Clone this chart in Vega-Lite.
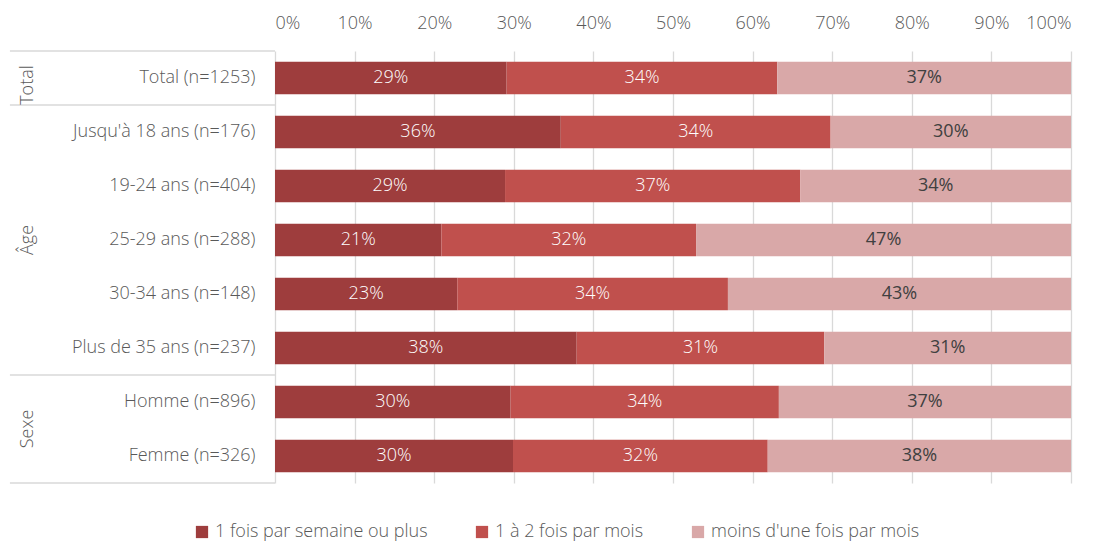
{
  "$schema": "https://vega.github.io/schema/vega-lite/v6.json",
  "width": 796,
  "height": 432,
  "autosize": {"type": "none"},
  "padding": {"left": 275, "top": 51, "right": 26, "bottom": 61},
  "background": "white",
  "config": {
    "view": {"stroke": null},
    "font": "Open Sans",
    "axis": {"labelFont": "Open Sans", "labelColor": "#595959", "labelFontSize": 18, "labelFontWeight": 300, "labelLimit": 0}
  },
  "datasets": {
    "bars": [
      {"row": "Total (n=1253)", "cat": "1 fois par semaine ou plus", "v": 0.291},
      {"row": "Total (n=1253)", "cat": "1 à 2 fois par mois", "v": 0.340},
      {"row": "Total (n=1253)", "cat": "moins d'une fois par mois", "v": 0.369},
      {"row": "Jusqu'à 18 ans (n=176)", "cat": "1 fois par semaine ou plus", "v": 0.359},
      {"row": "Jusqu'à 18 ans (n=176)", "cat": "1 à 2 fois par mois", "v": 0.339},
      {"row": "Jusqu'à 18 ans (n=176)", "cat": "moins d'une fois par mois", "v": 0.302},
      {"row": "19-24 ans (n=404)", "cat": "1 fois par semaine ou plus", "v": 0.289},
      {"row": "19-24 ans (n=404)", "cat": "1 à 2 fois par mois", "v": 0.371},
      {"row": "19-24 ans (n=404)", "cat": "moins d'une fois par mois", "v": 0.340},
      {"row": "25-29 ans (n=288)", "cat": "1 fois par semaine ou plus", "v": 0.209},
      {"row": "25-29 ans (n=288)", "cat": "1 à 2 fois par mois", "v": 0.320},
      {"row": "25-29 ans (n=288)", "cat": "moins d'une fois par mois", "v": 0.471},
      {"row": "30-34 ans (n=148)", "cat": "1 fois par semaine ou plus", "v": 0.229},
      {"row": "30-34 ans (n=148)", "cat": "1 à 2 fois par mois", "v": 0.340},
      {"row": "30-34 ans (n=148)", "cat": "moins d'une fois par mois", "v": 0.431},
      {"row": "Plus de 35 ans (n=237)", "cat": "1 fois par semaine ou plus", "v": 0.379},
      {"row": "Plus de 35 ans (n=237)", "cat": "1 à 2 fois par mois", "v": 0.311},
      {"row": "Plus de 35 ans (n=237)", "cat": "moins d'une fois par mois", "v": 0.310},
      {"row": "Homme (n=896)", "cat": "1 fois par semaine ou plus", "v": 0.296},
      {"row": "Homme (n=896)", "cat": "1 à 2 fois par mois", "v": 0.337},
      {"row": "Homme (n=896)", "cat": "moins d'une fois par mois", "v": 0.367},
      {"row": "Femme (n=326)", "cat": "1 fois par semaine ou plus", "v": 0.299},
      {"row": "Femme (n=326)", "cat": "1 à 2 fois par mois", "v": 0.320},
      {"row": "Femme (n=326)", "cat": "moins d'une fois par mois", "v": 0.381}
    ]
  },
  "layer": [
    {
      "data": {"name": "bars"},
      "transform": [
        {"stack": "v", "groupby": ["row"], "sort": [{"field": "cat", "order": "ascending"}], "as": ["x0", "x1"]}
      ],
      "mark": {"type": "bar", "height": {"band": 0.6}},
      "encoding": {
        "y": {
          "field": "row", "type": "nominal", "title": null,
          "sort": ["Total (n=1253)", "Jusqu'à 18 ans (n=176)", "19-24 ans (n=404)", "25-29 ans (n=288)", "30-34 ans (n=148)", "Plus de 35 ans (n=237)", "Homme (n=896)", "Femme (n=326)"],
          "scale": {"domain": ["Total (n=1253)", "Jusqu'à 18 ans (n=176)", "19-24 ans (n=404)", "25-29 ans (n=288)", "30-34 ans (n=148)", "Plus de 35 ans (n=237)", "Homme (n=896)", "Femme (n=326)"], "paddingInner": 0, "paddingOuter": 0},
          "axis": {"domain": false, "ticks": false, "labelPadding": 20, "grid": false}
        },
        "x": {
          "field": "x0", "type": "quantitative", "title": null,
          "scale": {"domain": [0, 1], "nice": false, "zero": false},
          "axis": {"orient": "top", "format": "%", "values": [0, 0.1, 0.2, 0.3, 0.4, 0.5, 0.6, 0.7, 0.8, 0.9, 1], "domain": false, "ticks": false, "grid": true, "gridColor": "#d9d9d9", "gridWidth": 1.3, "labelPadding": 19}
        },
        "x2": {"field": "x1"},
        "color": {
          "field": "cat", "type": "nominal",
          "sort": ["1 fois par semaine ou plus", "1 à 2 fois par mois", "moins d'une fois par mois"],
          "scale": {"domain": ["1 fois par semaine ou plus", "1 à 2 fois par mois", "moins d'une fois par mois"], "range": ["#9e3d3d", "#c0504d", "#d9a8a8"]},
          "legend": {
            "title": null, "orient": "none", "direction": "horizontal", "legendX": -82, "legendY": 472,
            "symbolType": "square", "symbolSize": 150, "symbolStrokeWidth": 0, "labelLimit": 0,
            "labelFontSize": 18, "labelFontWeight": 300, "labelColor": "#595959", "labelFont": "Open Sans", "columnPadding": 45, "labelOffset": 4
          }
        }
      }
    },
    {
      "data": {"name": "bars"},
      "transform": [
        {"stack": "v", "groupby": ["row"], "sort": [{"field": "cat", "order": "ascending"}], "as": ["x0", "x1"]},
        {"calculate": "(datum.x0 + datum.x1) / 2", "as": "xm"},
        {"filter": "datum.cat != \"moins d'une fois par mois\""}
      ],
      "mark": {"type": "text", "fontSize": 18, "fontWeight": 300, "font": "Open Sans", "baseline": "middle", "align": "center", "color": "#ffffff"},
      "encoding": {
        "y": {"field": "row", "type": "nominal", "sort": ["Total (n=1253)", "Jusqu'à 18 ans (n=176)", "19-24 ans (n=404)", "25-29 ans (n=288)", "30-34 ans (n=148)", "Plus de 35 ans (n=237)", "Homme (n=896)", "Femme (n=326)"]},
        "x": {"field": "xm", "type": "quantitative"},
        "text": {"field": "v", "type": "quantitative", "format": ".0%"}
      }
    },
    {
      "data": {"name": "bars"},
      "transform": [
        {"stack": "v", "groupby": ["row"], "sort": [{"field": "cat", "order": "ascending"}], "as": ["x0", "x1"]},
        {"calculate": "(datum.x0 + datum.x1) / 2", "as": "xm"},
        {"filter": "datum.cat == \"moins d'une fois par mois\""}
      ],
      "mark": {"type": "text", "fontSize": 18, "fontWeight": "normal", "font": "Open Sans", "baseline": "middle", "align": "center", "color": "#404040"},
      "encoding": {
        "y": {"field": "row", "type": "nominal", "sort": ["Total (n=1253)", "Jusqu'à 18 ans (n=176)", "19-24 ans (n=404)", "25-29 ans (n=288)", "30-34 ans (n=148)", "Plus de 35 ans (n=237)", "Homme (n=896)", "Femme (n=326)"]},
        "x": {"field": "xm", "type": "quantitative"},
        "text": {"field": "v", "type": "quantitative", "format": ".0%"}
      }
    },
    {
      "data": {"values": [{"row": "Total (n=1253)"}, {"row": "Jusqu'à 18 ans (n=176)"}, {"row": "Homme (n=896)"}]},
      "mark": {"type": "rule", "color": "#d9d9d9", "strokeWidth": 1.3},
      "encoding": {
        "y": {"field": "row", "type": "nominal", "bandPosition": 0, "sort": ["Total (n=1253)", "Jusqu'à 18 ans (n=176)", "19-24 ans (n=404)", "25-29 ans (n=288)", "30-34 ans (n=148)", "Plus de 35 ans (n=237)", "Homme (n=896)", "Femme (n=326)"]},
        "x": {"datum": -0.333},
        "x2": {"datum": 0}
      }
    },
    {
      "data": {"values": [{"row": "Femme (n=326)"}]},
      "mark": {"type": "rule", "color": "#d9d9d9", "strokeWidth": 1.3},
      "encoding": {
        "y": {"field": "row", "type": "nominal", "bandPosition": 1, "sort": ["Total (n=1253)", "Jusqu'à 18 ans (n=176)", "19-24 ans (n=404)", "25-29 ans (n=288)", "30-34 ans (n=148)", "Plus de 35 ans (n=237)", "Homme (n=896)", "Femme (n=326)"]},
        "x": {"datum": -0.333},
        "x2": {"datum": 0}
      }
    },
    {
      "data": {"values": [{"row": "Total (n=1253)", "g": "Total"}]},
      "mark": {"type": "text", "angle": 270, "fontSize": 18, "fontWeight": 300, "font": "Open Sans", "color": "#595959", "align": "center", "baseline": "middle"},
      "encoding": {
        "y": {"field": "row", "type": "nominal", "bandPosition": 0.63, "sort": ["Total (n=1253)", "Jusqu'à 18 ans (n=176)", "19-24 ans (n=404)", "25-29 ans (n=288)", "30-34 ans (n=148)", "Plus de 35 ans (n=237)", "Homme (n=896)", "Femme (n=326)"]},
        "x": {"datum": -0.31},
        "text": {"field": "g"}
      }
    },
    {
      "data": {"values": [{"row": "25-29 ans (n=288)", "g": "Âge"}]},
      "mark": {"type": "text", "angle": 270, "fontSize": 18, "fontWeight": 300, "font": "Open Sans", "color": "#595959", "align": "center", "baseline": "middle"},
      "encoding": {
        "y": {"field": "row", "type": "nominal", "bandPosition": 0.5, "sort": ["Total (n=1253)", "Jusqu'à 18 ans (n=176)", "19-24 ans (n=404)", "25-29 ans (n=288)", "30-34 ans (n=148)", "Plus de 35 ans (n=237)", "Homme (n=896)", "Femme (n=326)"]},
        "x": {"datum": -0.31},
        "text": {"field": "g"}
      }
    },
    {
      "data": {"values": [{"row": "Femme (n=326)", "g": "Sexe"}]},
      "mark": {"type": "text", "angle": 270, "fontSize": 18, "fontWeight": 300, "font": "Open Sans", "color": "#595959", "align": "center", "baseline": "middle"},
      "encoding": {
        "y": {"field": "row", "type": "nominal", "bandPosition": 0, "sort": ["Total (n=1253)", "Jusqu'à 18 ans (n=176)", "19-24 ans (n=404)", "25-29 ans (n=288)", "30-34 ans (n=148)", "Plus de 35 ans (n=237)", "Homme (n=896)", "Femme (n=326)"]},
        "x": {"datum": -0.31},
        "text": {"field": "g"}
      }
    }
  ]
}
